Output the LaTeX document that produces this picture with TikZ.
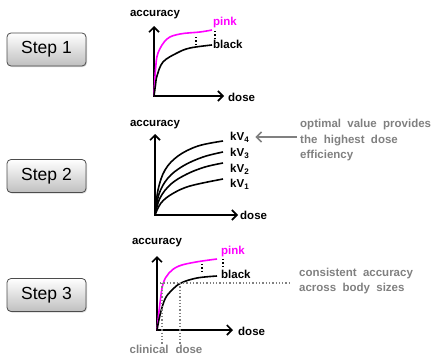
\documentclass[tikz,border=0pt]{standalone}
\usepackage{fontspec}
\setmainfont{Liberation Sans}
\usepackage{tikz}
\usetikzlibrary{arrows.meta,shadows,calc}
\definecolor{pinkline}{RGB}{255,0,255}
\definecolor{notegray}{RGB}{128,128,128}
\newcommand{\pinkcolor}{pinkline}
\newcommand{\notecolor}{notegray}
\newcommand{\axiswidth}{1.6pt}
\newcommand{\curvewidth}{1.6pt}
\newcommand{\widespace}{\spaceskip=0.55em\relax}
\tikzset{
  stepbox/.style={draw=black!70, line width=0.8pt, rounded corners=4pt,
    top color=white, bottom color=black!25, minimum width=79pt, minimum height=33pt,
    font=\fontsize{17.5}{20}\selectfont, inner sep=0pt,
    drop shadow={opacity=0.3, shadow xshift=1pt, shadow yshift=-1pt}},
  axis/.style={line width=\axiswidth, {Straight Barb[length=5pt,width=10pt]}-{Straight Barb[length=5pt,width=10pt]}},
  lab/.style={font=\fontsize{11.5}{13}\selectfont\bfseries, inner sep=0pt},
  note/.style={font={\fontsize{11.5}{15.5}\selectfont\bfseries\widespace}, text=\notecolor, inner sep=0pt, align=left},
  curve/.style={line width=\curvewidth},
  gap/.style={dotted, line width=1.4pt},
  guide/.style={dotted, line width=1.3pt, \notecolor}
}
\begin{document}
\begin{tikzpicture}[x=1pt, y=-1pt]
\useasboundingbox (0,0) rectangle (441,356);
% step boxes
\node[stepbox] (s1) at (46.5, 49.5) {Step 1};
\node[stepbox] (s2) at (46.5, 176) {Step 2};
\node[stepbox] (s3) at (46.5, 295) {Step 3};
%1
\coordinate (o1) at (154, 96);
\coordinate (y1) at (154, 26);
\coordinate (x1) at (224, 96);
\draw[axis] (y1) -- (o1) -- (x1);
\node[lab] (acc1) at (155, 15) {accuracy};
\node[lab, anchor=west] (dose1) at (228, 97) {dose};
\node[lab, anchor=west, text=\pinkcolor] (pink1) at (213, 23) {pink};
\node[lab, anchor=west] (black1) at (213, 44) {black};
\draw[curve, \pinkcolor] plot[smooth, tension=0.6] coordinates {(o1) (155.5,70) (158,53) (167,39) (180,34) (200,32) (212,30)};
\draw[curve] plot[smooth, tension=0.6] coordinates {(o1) (155.5,85) (157,76) (163,62) (177,53) (190,48) (212,45)};
\draw[gap] (196, 37) -- (196, 44);
\draw[gap] (215, 31) -- (215, 40);
%2
\coordinate (o2) at (155, 215);
\coordinate (y2) at (155, 134);
\coordinate (x2) at (238, 215);
\draw[axis] (y2) -- (o2) -- (x2);
\node[lab] (acc2) at (155, 125) {accuracy};
\node[lab, anchor=west] (dose2) at (240, 215) {dose};
\node[lab, anchor=west] (kv4) at (230, 137) {kV\textsubscript{4}};
\node[lab, anchor=west] (kv3) at (230, 153) {kV\textsubscript{3}};
\node[lab, anchor=west] (kv2) at (230, 169) {kV\textsubscript{2}};
\node[lab, anchor=west] (kv1) at (230, 184) {kV\textsubscript{1}};
\draw[curve] plot[smooth, tension=0.6] coordinates {(o2) (158,190) (165,170) (178,156) (198,146) (223,141)};
\draw[curve] plot[smooth, tension=0.6] coordinates {(o2) (159,194) (168,178) (183,166) (203,157) (223,152)};
\draw[curve] plot[smooth, tension=0.6] coordinates {(o2) (160,198) (171,184) (187,174) (205,167) (223,163)};
\draw[curve] plot[smooth, tension=0.6] coordinates {(o2) (161,203) (172,194) (190,186) (223,179)};
\node[note, anchor=north west] (opt) at (300, 119) {optimal value provides\\the highest dose\\efficiency};
\draw[line width=1.6pt, \notecolor, -{Straight Barb[length=5pt,width=10pt]}] (opt.west |- kv4.east) ++(-3,0) -- ([xshift=6pt]kv4.east);
%3
\coordinate (o3) at (157, 330);
\coordinate (y3) at (157, 256);
\coordinate (x3) at (233, 330);
\draw[axis] (y3) -- (o3) -- (x3);
\node[lab] (acc3) at (157, 243) {accuracy};
\node[lab, anchor=west] (dose3) at (238, 331) {dose};
\node[lab, anchor=west, text=\pinkcolor] (pink3) at (221, 252) {pink};
\node[lab, anchor=west] (black3) at (221, 274) {black};
\draw[curve, \pinkcolor] plot[smooth, tension=0.6] coordinates {(o3) (160,303) (163,284) (169,273) (179,266) (196,262) (217,259)};
\draw[curve] plot[smooth, tension=0.6] coordinates {(o3) (160,315) (165,299) (172,290) (181,283) (197,278) (217,276)};
\draw[gap] (202, 264) -- (202, 273);
\draw[gap] (223, 259) -- (223, 268);
\node[note, anchor=west] (cons) at (299, 281) {consistent accuracy\\across body sizes};
\coordinate (c3) at (160, 283);
\coordinate (c3a) at (162, 283);
\coordinate (c3b) at (180, 283);
\node[note, align=center] (clin) at (166, 349) {clinical\hspace{0.6em}dose};
\draw[guide] (c3) -- ([xshift=-8pt]cons.west |- c3);
\draw[guide] (c3a) -- (c3a |- clin.north);
\draw[guide] (c3b) -- (c3b |- clin.north);
\end{tikzpicture}
\end{document}
